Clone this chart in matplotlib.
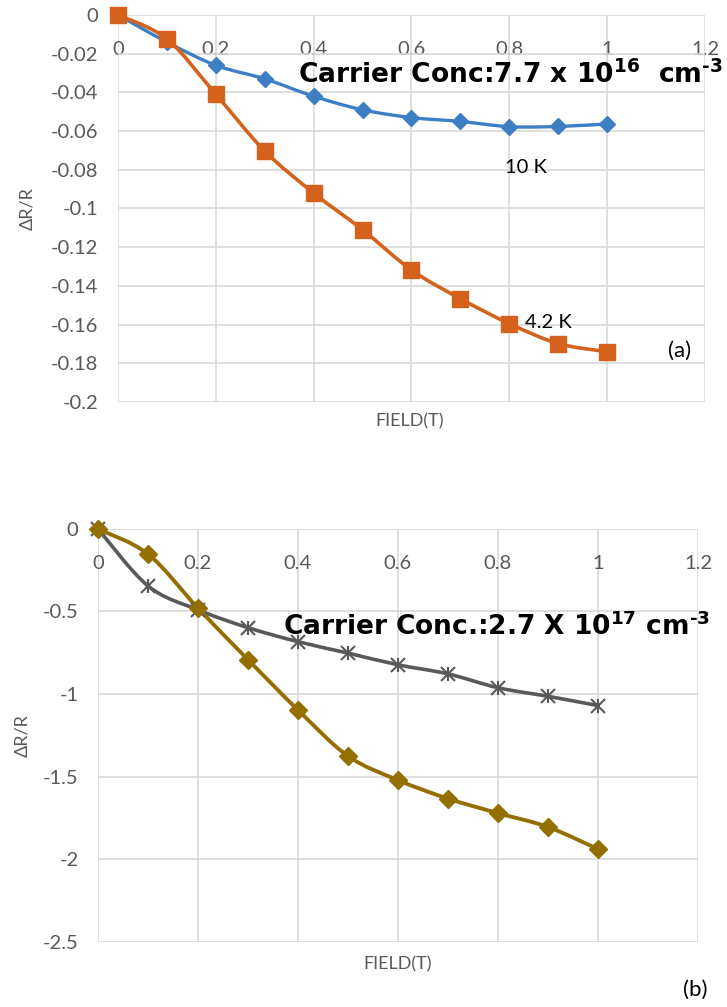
import numpy as np
import matplotlib.pyplot as plt
from matplotlib.path import Path
from matplotlib.patches import PathPatch

# panel (a)
field_a = [0, 0.1, 0.2, 0.3, 0.4, 0.5, 0.6, 0.7, 0.8, 0.9, 1.0]
dr_10k = [0, -0.014, -0.026, -0.033, -0.042, -0.049, -0.053, -0.055, -0.0577, -0.0576, -0.0563]
dr_42k = [0, -0.0124, -0.041, -0.0703, -0.092, -0.111, -0.1318, -0.1466, -0.1595, -0.1698, -0.174]
xticks_a = [0, 0.2, 0.4, 0.6, 0.8, 1.0, 1.2]
xlabels_a = ['0', '0.2', '0.4', '0.6', '0.8', '1', '1.2']
yticks_a = [0, -0.02, -0.04, -0.06, -0.08, -0.1, -0.12, -0.14, -0.16, -0.18, -0.2]
ylabels_a = ['0', '-0.02', '-0.04', '-0.06', '-0.08', '-0.1', '-0.12', '-0.14', '-0.16', '-0.18', '-0.2']

# panel (b)
field_b = [0, 0.1, 0.2, 0.3, 0.4, 0.5, 0.6, 0.7, 0.8, 0.9, 1.0]
dr_gray = [0, -0.345, -0.49, -0.598, -0.683, -0.752, -0.823, -0.878, -0.962, -1.014, -1.07]
dr_gold = [0, -0.152, -0.48, -0.792, -1.097, -1.376, -1.522, -1.634, -1.722, -1.806, -1.94]
xticks_b = [0, 0.2, 0.4, 0.6, 0.8, 1.0, 1.2]
xlabels_b = ['0', '0.2', '0.4', '0.6', '0.8', '1', '1.2']
yticks_b = [0, -0.5, -1, -1.5, -2, -2.5]
ylabels_b = ['0', '-0.5', '-1', '-1.5', '-2', '-2.5']

GRID = '#d9d9d9'
TXT = '#595959'

plt.rcParams['font.family'] = ['Lato', 'DejaVu Sans']
plt.rcParams['mathtext.fontset'] = 'custom'
plt.rcParams['mathtext.rm'] = 'DejaVu Sans:bold'
plt.rcParams['mathtext.default'] = 'rm'


def smooth(ax, x, y, color, lw):
    # excel-like smoothed line: catmull-rom segments as cubic beziers
    p = np.column_stack([x, y])
    n = len(p)
    verts = [p[0]]
    codes = [Path.MOVETO]
    for i in range(n - 1):
        p0 = p[max(i - 1, 0)]
        p1 = p[i]
        p2 = p[i + 1]
        p3 = p[min(i + 2, n - 1)]
        verts += [p1 + (p2 - p0) / 6, p2 - (p3 - p1) / 6, p2]
        codes += [Path.CURVE4] * 3
    ax.add_patch(PathPatch(Path(verts, codes), fill=False, edgecolor=color,
                           lw=lw, capstyle='round', joinstyle='round', zorder=3))


def style(ax, xt, xl, yt, yl, ylim):
    ax.set_xlim(0, 1.2)
    ax.set_ylim(*ylim)
    ax.spines['bottom'].set_position(('data', 0))
    for s in ax.spines.values():
        s.set_visible(False)
    ax.set_xticks(xt)
    ax.set_xticklabels(xl)
    ax.set_yticks(yt)
    ax.set_yticklabels(yl)
    ax.tick_params(length=0, colors=TXT, labelsize=14.5)
    ax.tick_params(axis='x', pad=19)
    ax.tick_params(axis='y', pad=14)
    ax.grid(True, color=GRID, lw=1.2)
    ax.set_axisbelow(True)


fig = plt.figure(figsize=(7.27, 10.07), dpi=100)

ax1 = fig.add_axes([0.1623, 0.6008, 0.8074, 0.3843])
style(ax1, xticks_a, xlabels_a, yticks_a, ylabels_a, (-0.2, 0))
smooth(ax1, field_a, dr_10k, '#3e7ec4', 2.4)
ax1.plot(field_a, dr_10k, ls='none', marker='D', ms=8, color='#3e7ec4', zorder=4, clip_on=False)
smooth(ax1, field_a, dr_42k, '#d4621c', 2.6)
ax1.plot(field_a, dr_42k, ls='none', marker='s', ms=11, color='#d4621c', zorder=4, clip_on=False)
ax1.set_ylabel('ΔR/R', color=TXT, fontsize=13)
ax1.yaxis.set_label_coords(-0.141, 0.5)
ax1.set_xlabel('FIELD(T)', color=TXT, fontsize=13, va='top')
ax1.xaxis.set_label_coords(0.497, -0.03)
note_a = ax1.text(0.368, -0.031, 'Carrier Conc:7.7 x 10$^{16}$  cm$^{\u20103}$', fontsize=18,
                  family='DejaVu Sans', fontweight='bold', va='center', ha='left')
ax1.text(0.792, -0.079, '10 K', fontsize=14.5, va='center')
ax1.text(0.833, -0.159, '4.2 K', fontsize=14.5, va='center')
ax1.text(1.125, -0.1735, '(a)', fontsize=16, va='center')

ax2 = fig.add_axes([0.1348, 0.0650, 0.8253, 0.4097])
style(ax2, xticks_b, xlabels_b, yticks_b, ylabels_b, (-2.5, 0))
smooth(ax2, field_b, dr_gray, '#595959', 2.6)
ax2.plot(field_b, dr_gray, ls='none', marker='x', ms=10, mew=1.5, color='#595959', zorder=4, clip_on=False)
ax2.plot(field_b, dr_gray, ls='none', marker='|', ms=10, mew=1.5, color='#595959', zorder=4, clip_on=False)
smooth(ax2, field_b, dr_gold, '#946f00', 2.8)
ax2.plot(field_b, dr_gold, ls='none', marker='D', ms=9, color='#946f00', zorder=4, clip_on=False)
ax2.set_ylabel('ΔR/R', color=TXT, fontsize=13)
ax2.yaxis.set_label_coords(-0.113, 0.5)
ax2.set_xlabel('FIELD(T)', color=TXT, fontsize=13, va='top')
ax2.xaxis.set_label_coords(0.5, -0.035)
note_b = ax2.text(0.37, -0.594, 'Carrier Conc.:2.7 X 10$^{17}$ cm$^{\u20103}$', fontsize=18,
                  family='DejaVu Sans', fontweight='bold', va='center', ha='left')
fig.text(683 / 727, 1 - 990 / 1007, '(b)', fontsize=16, va='center')

# fit the two bold notes to the width they take in the original
fig.canvas.draw()
for t, w in [(note_a, 425), (note_b, 427)]:
    bw = t.get_window_extent().width
    t.set_fontsize(t.get_fontsize() * w / bw)

plt.savefig('out.png', dpi=100)
